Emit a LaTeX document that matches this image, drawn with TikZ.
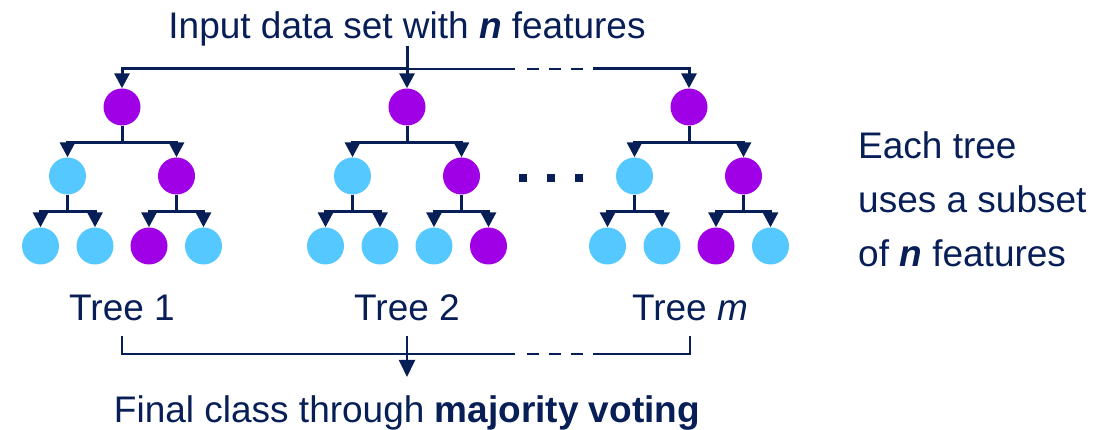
\documentclass[tikz,border=0pt]{standalone}
\usepackage{fontspec}
\setmainfont{Liberation Sans}
\usetikzlibrary{arrows.meta}
\definecolor{ink}{RGB}{8,30,86}
\definecolor{purp}{RGB}{160,0,230}
\definecolor{sky}{RGB}{85,200,255}
\begin{document}
\begin{tikzpicture}[x=1pt,y=-1pt,
  pn/.style={circle,fill=purp,minimum size=37pt,inner sep=0pt},
  bn/.style={circle,fill=sky,minimum size=37pt,inner sep=0pt},
  edge/.style={draw=ink,line width=3pt,-{Triangle[width=15pt,length=15pt]}},
  barline/.style={draw=ink,line width=2.8pt},
  thinl/.style={draw=ink,line width=1.3pt},
  midedge/.style={draw=ink,line width=2pt,-{Triangle[width=16pt,length=17pt]}},
  gapdash/.style={dash pattern=on 0pt off 12pt on 12pt off 10pt on 12pt off 10pt on 12pt off 10pt},
  txt/.style={text=ink,font=\fontsize{37}{54}\selectfont,inner sep=0pt},
  dot/.style={fill=ink,minimum size=8.5pt,inner sep=0pt}]
\useasboundingbox (0,0) rectangle (1105,430);

% trees
\foreach \i/\x/\c/\d in {1/122/pn/bn, 2/407/bn/pn, 3/689/pn/bn}{
  \node[pn] (t\i-r) at (\x,107) {};
  \node[bn] (t\i-a) at (\x-54.5,176) {};
  \node[pn] (t\i-b) at (\x+54.5,176) {};
  \node[bn] (t\i-aa) at (\x-81.5,246) {};
  \node[bn] (t\i-ab) at (\x-27,246) {};
  \node[\c] (t\i-ba) at (\x+27,246) {};
  \node[\d] (t\i-bb) at (\x+81.5,246) {};
  \draw[edge] (t\i-r.south) -- ++(0,17) -| (t\i-a.north);
  \draw[edge] (t\i-r.south) -- ++(0,17) -| (t\i-b.north);
  \draw[edge] (t\i-a.south) -- ++(0,16.5) -| (t\i-aa.north);
  \draw[edge] (t\i-a.south) -- ++(0,16.5) -| (t\i-ab.north);
  \draw[edge] (t\i-b.south) -- ++(0,16.5) -| (t\i-ba.north);
  \draw[edge] (t\i-b.south) -- ++(0,16.5) -| (t\i-bb.north);
}

% top
\node[txt,anchor=base] (in) at (407,38.5) {Input data set with \textbf{\textit{n}} features};
\draw[edge] (in.south) -- (t2-r.north);
\coordinate (tb) at (407,69);
\coordinate (tg1) at (515,69);
\coordinate (tg2) at (593,69);
\draw[edge] (tb) -| (t1-r.north);
\draw[barline] (tb) -- (tg1);
\draw[barline,gapdash] (tg1) -- (tg2);
\draw[edge] (tg2) -| (t3-r.north);

% dots
\node[dot] (d1) at (523,178) {};
\node[dot] (d2) at (551,178) {};
\node[dot] (d3) at (579,178) {};

% labels
\node[txt,anchor=base] (l1) at (122,320) {Tree 1};
\node[txt,anchor=base] (l2) at (407,320) {Tree 2};
\node[txt,anchor=base] (l3) at (690,320) {Tree \textit{m}};

% bottom
\node[txt,anchor=base] (fin) at (407,422) {Final class through \textbf{majority voting}};
\coordinate (bg1) at (515,354);
\coordinate (bg2) at (593,354);
\draw[thinl] ([yshift=-15pt]l1.south) |- (bg1);
\draw[thinl,gapdash] (bg1) -- (bg2);
\draw[thinl] (bg2) -| ([yshift=-15pt]l3.south);
\draw[midedge] ([yshift=-15pt]l2.south) -- ([yshift=18pt]fin.north);

% side text
\node[txt,anchor=north west,align=left] (side) at (858,131) {Each tree\\uses a subset\\of \textbf{\textit{n}} features};
\end{tikzpicture}
\end{document}
